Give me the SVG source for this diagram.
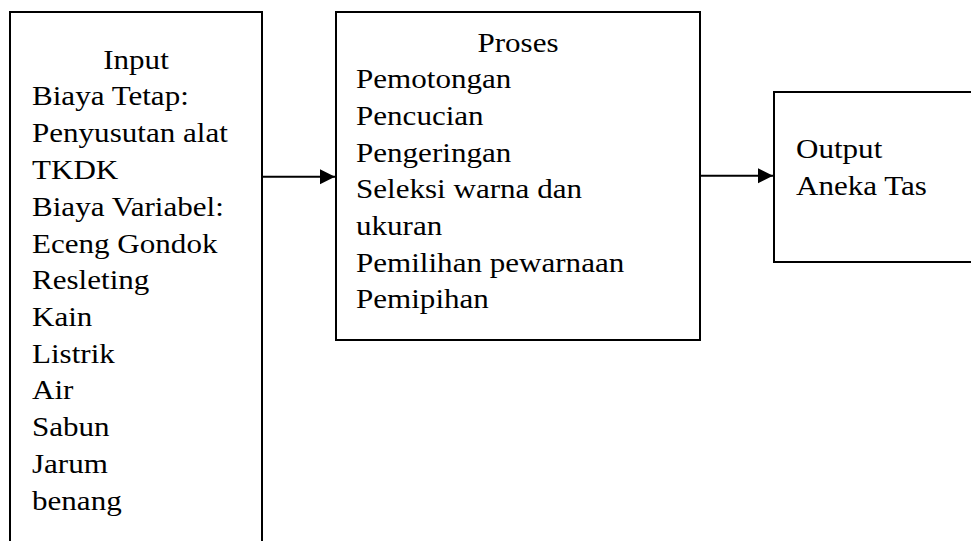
<svg xmlns="http://www.w3.org/2000/svg" width="971" height="541" viewBox="0 0 971 541">
<style>
.box{fill:#fff;stroke:#000;stroke-width:2}
.t{font-family:"Liberation Serif","Times New Roman",serif;font-size:27.5px;fill:#000}
.c{text-anchor:middle}
.conn{stroke:#000;stroke-width:2;fill:none}
</style>
<defs>
<marker id="ah" markerUnits="userSpaceOnUse" markerWidth="16" markerHeight="16" refX="15" refY="7.5" orient="auto">
<polygon points="0,0 15,7.5 0,15" fill="#000"/>
</marker>
</defs>
<rect width="971" height="541" fill="#fff"/>
<g id="input">
<rect class="box" x="10" y="12" width="252" height="560"/>
<text class="t c" transform="translate(136,68.5) scale(1.13,1)">Input</text>
<text class="t" transform="translate(32,105.3) scale(1.13,1)">Biaya Tetap:</text>
<text class="t" transform="translate(32,142.1) scale(1.13,1)">Penyusutan alat</text>
<text class="t" transform="translate(32,178.9) scale(1.13,1)">TKDK</text>
<text class="t" transform="translate(32,215.7) scale(1.13,1)">Biaya Variabel:</text>
<text class="t" transform="translate(32,252.5) scale(1.13,1)">Eceng Gondok</text>
<text class="t" transform="translate(32,289.3) scale(1.13,1)">Resleting</text>
<text class="t" transform="translate(32,326.1) scale(1.13,1)">Kain</text>
<text class="t" transform="translate(32,362.9) scale(1.13,1)">Listrik</text>
<text class="t" transform="translate(32,399.3) scale(1.13,1)">Air</text>
<text class="t" transform="translate(32,436.2) scale(1.13,1)">Sabun</text>
<text class="t" transform="translate(32,473.2) scale(1.13,1)">Jarum</text>
<text class="t" transform="translate(32,510.1) scale(1.13,1)">benang</text>
</g>
<g id="proses">
<rect class="box" x="336" y="12" width="364" height="328"/>
<text class="t c" transform="translate(518,52.3) scale(1.13,1)">Proses</text>
<text class="t" transform="translate(356,88.3) scale(1.13,1)">Pemotongan</text>
<text class="t" transform="translate(356,125) scale(1.13,1)">Pencucian</text>
<text class="t" transform="translate(356,161.7) scale(1.13,1)">Pengeringan</text>
<text class="t" transform="translate(356,198) scale(1.13,1)">Seleksi warna dan</text>
<text class="t" transform="translate(356,234.7) scale(1.13,1)">ukuran</text>
<text class="t" transform="translate(356,271.6) scale(1.13,1)">Pemilihan pewarnaan</text>
<text class="t" transform="translate(356,308.4) scale(1.13,1)">Pemipihan</text>
</g>
<g id="output">
<rect class="box" x="774" y="92" width="220" height="170"/>
<text class="t" transform="translate(796,158.3) scale(1.13,1)">Output</text>
<text class="t" transform="translate(796,195) scale(1.13,1)">Aneka Tas</text>
</g>
<g id="connectors">
<line class="conn" x1="262" y1="176.7" x2="335" y2="176.7" marker-end="url(#ah)"/>
<line class="conn" x1="700" y1="175.8" x2="773" y2="175.8" marker-end="url(#ah)"/>
</g>
</svg>
